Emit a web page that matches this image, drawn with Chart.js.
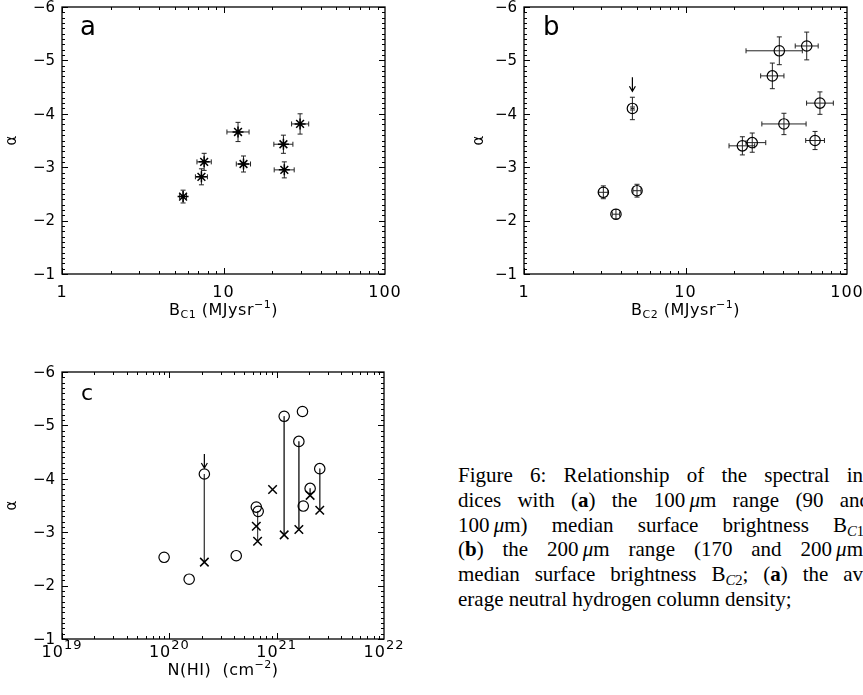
<!DOCTYPE html>
<html lang="en">
<head>
  <meta charset="UTF-8">
  <title>Figure 6 - Spectral indices</title>
  <script src="https://cdn.jsdelivr.net/npm/chart.js"></script>
  <style>
    body {
      margin: 0;
      width: 863px;
      height: 695px;
      overflow: hidden;
      background: #fff;
      position: relative;
    }

    canvas { position: absolute; }
    #chartA { left: 0; top: 0; }
    #chartB { left: 431px; top: 0; }
    #chartC { left: 0; top: 330px; }

    .caption {
      position: absolute;
      left: 458px;
      top: 463px;
      width: 412px;
      font-family: "Liberation Serif", serif;
      font-size: 21px;
      line-height: 24.8px;
      color: #000;
    }

    .caption div {
      white-space: nowrap;
      text-align: justify;
      text-align-last: justify;
    }

    .caption div.last { text-align-last: left; }

    .caption sub {
      font-size: 70%;
      vertical-align: -4px;
      line-height: 0;
    }
  </style>
</head>
<body>

  <canvas id="chartA" width="431" height="330"></canvas>
  <canvas id="chartB" width="432" height="330"></canvas>
  <canvas id="chartC" width="431" height="365"></canvas>

  <div class="caption">
    <div>Figure 6: Relationship of the spectral in-</div>
    <div>dices with (<b>a</b>) the 100&thinsp;<i>μ</i>m range (90 and</div>
    <div>100&thinsp;<i>μ</i>m) median surface brightness B<sub><i>C</i>1</sub>;</div>
    <div>(<b>b</b>) the 200&thinsp;<i>μ</i>m range (170 and 200&thinsp;<i>μ</i>m)</div>
    <div>median surface brightness B<sub><i>C</i>2</sub>; (<b>a</b>) the av-</div>
    <div class="last">erage neutral hydrogen column density;</div>
  </div>

  <script>
    // axis ticks
    const yTicks = [-6, -5, -4, -3, -2, -1];
    const yTickLabels = ['−6', '−5', '−4', '−3', '−2', '−1'];
    const xTicksB = [1, 10, 100];
    const xTickLabelsB = ['1', '10', '100'];
    const xTicksN = [1e19, 1e20, 1e21, 1e22];
    const xTickExpN = ['19', '20', '21', '22'];

    // panel a: 100 um range
    const bc1 = [5.62, 7.3, 7.59, 12.3, 13.3, 23.5, 23.8, 29.8];
    const bc1Lo = [5.35, 6.7, 6.85, 10.5, 12.0, 20.5, 20.6, 26.4];
    const bc1Hi = [5.9, 7.95, 8.4, 14.4, 14.7, 26.9, 27.4, 33.7];
    const alphaC1 = [-2.45, -2.82, -3.10, -3.66, -3.06, -3.43, -2.95, -3.81];
    const alphaC1Err = [0.12, 0.15, 0.16, 0.18, 0.15, 0.17, 0.15, 0.19];

    // panel b: 200 um range
    const bc2 = [3.10, 3.71, 5.01, 4.69, 22.5, 25.9, 34.5, 38.1, 40.7, 56.3, 63.4, 68.0];
    const bc2Lo = [2.90, 3.52, 4.73, 4.6, 18.6, 23.7, 29.2, 23.7, 29.7, 47.8, 55.5, 56.2];
    const bc2Hi = [3.31, 3.91, 5.30, 4.8, 26.8, 31.4, 40.7, 52.9, 55.8, 66.3, 72.5, 82.3];
    const alphaC2 = [-2.53, -2.12, -2.56, -4.10, -3.40, -3.46, -4.71, -5.18, -3.81, -5.27, -3.50, -4.20];
    const alphaC2Err = [0.12, 0.09, 0.12, 0.21, 0.17, 0.18, 0.24, 0.26, 0.20, 0.26, 0.17, 0.21];
    const upperLimitsC2 = [3];

    // panel c: against N(HI)
    const nhiC2 = [8.94e19, 1.53e20, 2.12e20, 4.2e20, 6.46e20, 6.73e20, 1.175e21, 1.61e21, 1.74e21, 1.77e21, 2.05e21, 2.52e21];
    const alphaNhiC2 = [-2.53, -2.12, -4.09, -2.56, -3.47, -3.39, -5.17, -4.70, -5.26, -3.49, -3.82, -4.19];
    const upperLimitsN = [2];
    const nhiC1 = [2.12e20, 6.46e20, 6.64e20, 9.16e20, 1.175e21, 1.61e21, 2.05e21, 2.52e21];
    const alphaNhiC1 = [-2.44, -3.11, -2.83, -3.80, -2.95, -3.05, -3.69, -3.41];
    const linkNhi = [2.12e20, 6.64e20, 1.175e21, 1.61e21, 2.05e21, 2.52e21];
    const linkTop = [-4.09, -3.39, -5.17, -4.70, -3.82, -4.19];
    const linkBottom = [-2.44, -2.83, -2.95, -3.05, -3.69, -3.41];

    const FONT = '"DejaVu Sans", sans-serif';

    function baseOptions(padding, xMin, xMax) {
      return {
        responsive: false,
        animation: false,
        layout: { padding },
        plugins: { legend: { display: false }, tooltip: { enabled: false } },
        scales: {
          x: { type: 'logarithmic', min: xMin, max: xMax, display: false },
          y: { type: 'linear', min: yTicks[0], max: yTicks[yTicks.length - 1], reverse: true, display: false }
        }
      };
    }

    // parts: [text, size, dy]; drawn centred on cx
    function drawRich(ctx, parts, cx, baseY, spacing) {
      ctx.letterSpacing = (spacing || 0) + 'px';
      let w = 0;
      parts.forEach(p => { ctx.font = p[1] + 'px ' + FONT; w += ctx.measureText(p[0]).width; });
      let x = cx - w / 2;
      ctx.textAlign = 'left';
      ctx.textBaseline = 'alphabetic';
      parts.forEach(p => {
        ctx.font = p[1] + 'px ' + FONT;
        ctx.fillText(p[0], x, baseY + p[2]);
        x += ctx.measureText(p[0]).width;
      });
      ctx.letterSpacing = '0px';
    }

    // error bars with small caps
    function errorBars(xs, lo, hi, ys, err) {
      return {
        id: 'errorBars',
        beforeDatasetsDraw(chart) {
          const { ctx, scales: { x, y } } = chart;
          ctx.save();
          ctx.strokeStyle = '#222';
          ctx.lineWidth = 1;
          ctx.beginPath();
          xs.forEach((v, i) => {
            const px = x.getPixelForValue(v);
            const py = y.getPixelForValue(ys[i]);
            const x0 = x.getPixelForValue(lo[i]), x1 = x.getPixelForValue(hi[i]);
            const y0 = y.getPixelForValue(ys[i] - err[i]), y1 = y.getPixelForValue(ys[i] + err[i]);
            ctx.moveTo(x0, py); ctx.lineTo(x1, py);
            ctx.moveTo(x0, py - 2.5); ctx.lineTo(x0, py + 2.5);
            ctx.moveTo(x1, py - 2.5); ctx.lineTo(x1, py + 2.5);
            ctx.moveTo(px, y0); ctx.lineTo(px, y1);
            ctx.moveTo(px - 2.5, y0); ctx.lineTo(px + 2.5, y0);
            ctx.moveTo(px - 2.5, y1); ctx.lineTo(px + 2.5, y1);
          });
          ctx.stroke();
          ctx.restore();
        }
      };
    }

    // downward arrows above upper-limit points
    function limitArrows(xs, ys, idx, err) {
      return {
        id: 'limitArrows',
        afterDatasetsDraw(chart) {
          const { ctx, scales: { x, y } } = chart;
          ctx.save();
          ctx.strokeStyle = '#000';
          ctx.lineWidth = 1.2;
          ctx.beginPath();
          idx.forEach(i => {
            const px = x.getPixelForValue(xs[i]);
            const tip = err ? y.getPixelForValue(ys[i] - err[i]) - 6 : y.getPixelForValue(ys[i]) - 6;
            ctx.moveTo(px, tip - 14); ctx.lineTo(px, tip);
            ctx.moveTo(px - 3, tip - 5); ctx.lineTo(px, tip); ctx.lineTo(px + 3, tip - 5);
          });
          ctx.stroke();
          ctx.restore();
        }
      };
    }

    // IDL style box with inward ticks and labels
    function idlAxes(cfg) {
      return {
        id: 'idlAxes',
        afterDraw(chart) {
          const { ctx, chartArea: a, scales: { x, y } } = chart;
          ctx.save();
          ctx.strokeStyle = '#000';
          ctx.lineWidth = 1.3;
          ctx.strokeRect(a.left, a.top, a.right - a.left, a.bottom - a.top);

          ctx.lineWidth = 1;
          ctx.beginPath();
          const y0 = yTicks[0], y1 = yTicks[yTicks.length - 1];
          const steps = Math.round((y1 - y0) * 10);
          for (let k = 0; k <= steps; k++) {
            const py = Math.round(y.getPixelForValue(y0 + k / 10)) + 0.5;
            const len = k % 10 === 0 ? 6 : 3;
            ctx.moveTo(a.left, py); ctx.lineTo(a.left + len, py);
            ctx.moveTo(a.right, py); ctx.lineTo(a.right - len, py);
          }
          const xt = cfg.xTicks;
          for (let d = 0; d < xt.length - 1; d++) {
            for (let m = 1; m <= 9; m++) {
              const px = Math.round(x.getPixelForValue(xt[d] * m)) + 0.5;
              const len = m === 1 ? 6 : 3;
              ctx.moveTo(px, a.bottom); ctx.lineTo(px, a.bottom - len);
              ctx.moveTo(px, a.top); ctx.lineTo(px, a.top + len);
            }
          }
          ctx.stroke();

          ctx.fillStyle = '#000';
          ctx.font = '15px ' + FONT;
          ctx.textAlign = 'right';
          ctx.textBaseline = 'middle';
          yTicks.forEach((v, i) => ctx.fillText(yTickLabels[i], a.left - 7, y.getPixelForValue(v) + 1));

          xt.forEach((v, i) => {
            const px = x.getPixelForValue(v);
            if (cfg.xExp) {
              drawRich(ctx, [['10', 16, 0], [cfg.xExp[i], 13, -8]], px, cfg.labelBase, 1);
            } else {
              drawRich(ctx, [[cfg.xLabels[i], 16, 0]], px, cfg.labelBase, 1);
            }
          });

          drawRich(ctx, cfg.title, (a.left + a.right) / 2, cfg.titleBase, 0.5);

          ctx.save();
          ctx.translate(cfg.yTitleX, (a.top + a.bottom) / 2);
          ctx.rotate(-Math.PI / 2);
          drawRich(ctx, [['α', 15, 0]], 0, 5);
          ctx.restore();

          ctx.font = cfg.letterSize + 'px ' + FONT;
          ctx.textAlign = 'left';
          ctx.textBaseline = 'alphabetic';
          ctx.fillText(cfg.letter, cfg.letterX, cfg.letterY);
          ctx.restore();
        }
      };
    }

    new Chart(document.getElementById('chartA'), {
      type: 'scatter',
      data: {
        datasets: [{
          data: bc1.map((v, i) => ({ x: v, y: alphaC1[i] })),
          pointStyle: 'star',
          pointRadius: 5.5,
          borderColor: '#000',
          backgroundColor: 'transparent',
          borderWidth: 1.5
        }]
      },
      options: baseOptions({ left: 62, top: 7, right: 46, bottom: 56 }, 1, 100),
      plugins: [
        errorBars(bc1, bc1Lo, bc1Hi, alphaC1, alphaC1Err),
        idlAxes({
          xTicks: xTicksB, xLabels: xTickLabelsB, labelBase: 297,
          title: [['B', 16, 0], ['C1', 11, 3], [' (MJysr', 16, 0], ['−1', 11, -7], [')', 16, 0]],
          titleBase: 315, yTitleX: 11, letter: 'a', letterX: 80, letterY: 35, letterSize: 26
        })
      ]
    });

    new Chart(document.getElementById('chartB'), {
      type: 'scatter',
      data: {
        datasets: [{
          data: bc2.map((v, i) => ({ x: v, y: alphaC2[i] })),
          pointStyle: 'circle',
          pointRadius: 5.2,
          borderColor: '#000',
          backgroundColor: 'transparent',
          borderWidth: 1.2
        }]
      },
      options: baseOptions({ left: 93, top: 7, right: 16, bottom: 56 }, 1, 100),
      plugins: [
        errorBars(bc2, bc2Lo, bc2Hi, alphaC2, alphaC2Err),
        limitArrows(bc2, alphaC2, upperLimitsC2, alphaC2Err),
        idlAxes({
          xTicks: xTicksB, xLabels: xTickLabelsB, labelBase: 297,
          title: [['B', 16, 0], ['C2', 11, 3], [' (MJysr', 16, 0], ['−1', 11, -7], [')', 16, 0]],
          titleBase: 315, yTitleX: 47, letter: 'b', letterX: 112, letterY: 35, letterSize: 26
        })
      ]
    });

    const linkSets = linkNhi.map((v, i) => ({
      data: [{ x: v, y: linkTop[i] }, { x: v, y: linkBottom[i] }],
      showLine: true,
      pointRadius: 0,
      borderColor: '#444',
      borderWidth: 1,
      order: 3
    }));

    new Chart(document.getElementById('chartC'), {
      type: 'scatter',
      data: {
        datasets: [
          {
            data: nhiC2.map((v, i) => ({ x: v, y: alphaNhiC2[i] })),
            pointStyle: 'circle',
            pointRadius: 5.2,
            borderColor: '#000',
            backgroundColor: 'transparent',
            borderWidth: 1.2,
            order: 1
          },
          {
            data: nhiC1.map((v, i) => ({ x: v, y: alphaNhiC1[i] })),
            pointStyle: 'crossRot',
            pointRadius: 6,
            borderColor: '#000',
            borderWidth: 1.5,
            order: 2
          },
          ...linkSets
        ]
      },
      options: baseOptions({ left: 62, top: 42, right: 47, bottom: 56 }, 1e19, 1e22),
      plugins: [
        limitArrows(nhiC2, alphaNhiC2, upperLimitsN, null),
        idlAxes({
          xTicks: xTicksN, xExp: xTickExpN, labelBase: 327,
          title: [['N(HI)  (cm', 16, 0], ['−2', 11, -7], [')', 16, 0]],
          titleBase: 345, yTitleX: 11, letter: 'c', letterX: 81, letterY: 70, letterSize: 22
        })
      ]
    });
  </script>

</body>
</html>
